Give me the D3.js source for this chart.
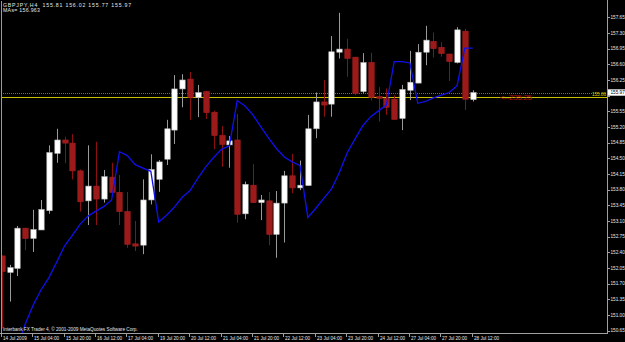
<!DOCTYPE html>
<html>
<head>
<meta charset="utf-8">
<script src="https://cdn.jsdelivr.net/npm/d3@7"></script>
<style>
  html, body { margin: 0; padding: 0; background: #000; }
  svg { display: block; }
  text { font-family: "Liberation Sans", Arial, sans-serif; }
</style>
</head>
<body>
<svg id="chart"></svg>
<script>
// GBPJPY H4 bars
var opens = [152.32,151.95,152.04,152.94,152.71,152.90,153.33,154.61,154.91,154.84,
  154.22,153.55,153.88,153.59,154.08,153.74,153.31,152.59,152.56,153.57,
  154.03,154.48,155.13,156.05,156.27,155.86,155.99,155.53,155.01,154.80,
  154.91,153.26,153.90,153.51,153.55,152.80,153.50,154.11,153.84,153.89,
  155.16,155.76,155.71,156.87,156.94,156.76,155.99,156.64,155.88,155.84,
  155.82,155.39,156.02,156.18,156.87,157.11,156.98,156.83,156.64,157.34,
  155.81];
var highs = [152.33,152.12,152.99,152.95,153.35,153.57,154.79,155.16,154.98,155.04,
  154.25,154.79,154.87,154.24,154.40,154.13,153.75,153.10,154.03,154.59,
  154.46,155.36,156.36,156.38,156.43,156.14,156.01,155.56,155.22,155.00,
  155.49,153.98,154.37,153.68,153.75,153.77,154.22,154.60,154.45,155.47,
  155.97,156.25,157.23,157.75,157.17,156.76,156.85,156.86,156.09,156.06,
  155.91,156.14,156.90,157.05,157.46,157.31,157.09,156.83,157.43,157.39,
  156.02];
var lows = [150.70,151.30,151.87,152.45,152.41,152.90,153.26,154.40,154.39,154.03,
  153.31,153.01,153.01,153.51,153.72,153.01,152.50,152.43,152.36,153.47,
  153.75,154.35,154.82,155.64,155.36,155.42,155.38,154.71,154.31,154.29,
  153.06,153.14,153.51,153.12,152.56,152.28,152.62,153.72,153.79,153.89,
  154.95,155.43,155.43,156.73,156.32,155.91,155.95,155.79,155.32,155.47,
  155.37,155.13,155.80,156.18,156.58,156.75,156.77,156.23,156.62,155.58,
  155.77];
var closes = [151.97,152.06,152.94,152.71,152.91,153.36,154.63,154.91,154.84,154.22,
  153.53,153.88,153.59,154.09,153.74,153.31,152.58,152.54,153.57,154.25,
  154.42,155.16,156.05,156.25,155.86,155.97,155.52,155.01,154.81,154.89,
  153.25,153.92,153.51,153.57,152.80,153.50,154.11,153.84,153.90,155.16,
  155.76,155.69,156.88,156.94,156.73,155.95,156.64,155.86,155.84,155.64,
  155.37,156.04,156.20,156.87,157.14,156.95,156.84,156.66,157.37,155.82,
  155.97];
// moving average buffer (blue line)
var maValues = [null,null,150.27,150.80,151.22,151.56,151.83,152.18,152.54,152.78,
  153.03,153.21,153.32,153.42,153.57,154.65,154.56,154.36,154.28,154.21,
  153.08,153.23,153.41,153.63,153.78,154.06,154.31,154.52,154.70,154.78,
  155.79,155.67,155.47,155.21,154.95,154.72,154.53,154.42,154.34,153.18,
  153.38,153.60,153.81,154.18,154.62,154.93,155.23,155.43,155.56,155.69,
  156.66,156.66,156.63,155.73,155.77,155.85,155.91,155.97,156.12,156.96,
  156.96];

var timeLabels = ['14 Jul 2009','15 Jul 04:00','15 Jul 20:00','16 Jul 12:00','17 Jul 04:00',
  '19 Jul 20:00','20 Jul 12:00','21 Jul 04:00','21 Jul 20:00','22 Jul 12:00',
  '23 Jul 04:00','23 Jul 20:00','24 Jul 12:00','27 Jul 04:00','27 Jul 20:00','28 Jul 12:00'];
var barsPerLabel = 4;
var priceTicks = [157.65,157.30,156.95,156.60,156.25,155.90,155.55,155.20,154.85,154.50,
  154.15,153.80,153.45,153.10,152.75,152.40,152.05,151.70,151.35,151.00,150.65];

var bidPrice = 155.97;
var hLinePrice = 155.86;
var headerText = 'GBPJPY,H4  155.81 156.02 155.77 155.97';
var maText = 'MAs= 156.963';
var timerText = '<--235:25';

// layout
var width = 625;
var height = 342;
var plot = {left: 1, right: 607, top: 1, bottom: 333};

var x = d3.scaleLinear().domain([0, 60]).range([1.7, 472.7]);
var y = d3.scaleLinear().domain([150.65, 157.65]).range([330.7, 17.3]);

var svg = d3.select('#chart')
  .attr('width', width)
  .attr('height', height);

svg.append('rect')
  .attr('width', width)
  .attr('height', height)
  .attr('fill', '#000');

svg.append('defs').append('clipPath')
  .attr('id', 'plotclip')
  .append('rect')
    .attr('x', plot.left + 1)
    .attr('y', plot.top)
    .attr('width', plot.right - plot.left - 1)
    .attr('height', plot.bottom - plot.top);

var g = svg.append('g').attr('clip-path', 'url(#plotclip)');

// bid line (dotted grey) and user horizontal line (yellow)
g.append('line')
  .attr('x1', plot.left).attr('x2', plot.right)
  .attr('y1', Math.round(y(bidPrice)) + 0.5).attr('y2', Math.round(y(bidPrice)) + 0.5)
  .attr('stroke', '#6a6a6a')
  .attr('stroke-dasharray', '1,1');

g.append('line')
  .attr('x1', plot.left).attr('x2', plot.right)
  .attr('y1', Math.round(y(hLinePrice)) + 0.5).attr('y2', Math.round(y(hLinePrice)) + 0.5)
  .attr('stroke', '#c8c000');

// candles
var bars = d3.range(opens.length).map(function(i) {
  return {i: i, o: opens[i], h: highs[i], l: lows[i], c: closes[i]};
});
var bodyW = 5.4;

var candle = g.selectAll('g.candle')
  .data(bars)
  .enter()
  .append('g')
    .attr('class', 'candle');

candle.append('line')
  .attr('x1', function(d) { return Math.round(x(d.i)) + 0.5; })
  .attr('x2', function(d) { return Math.round(x(d.i)) + 0.5; })
  .attr('y1', function(d) { return y(d.h); })
  .attr('y2', function(d) { return y(d.l); })
  .attr('stroke', function(d) { return d.c >= d.o ? '#9a9a9a' : '#8c1010'; })
  .attr('stroke-width', 1);

candle.append('rect')
  .attr('x', function(d) { return Math.round(x(d.i)) + 0.5 - bodyW / 2; })
  .attr('y', function(d) { return y(Math.max(d.o, d.c)); })
  .attr('width', bodyW)
  .attr('height', function(d) { return Math.max(1.2, Math.abs(y(d.o) - y(d.c))); })
  .attr('fill', function(d) { return d.c >= d.o ? '#ffffff' : '#9c1a1a'; })
  .attr('stroke', function(d) { return d.c >= d.o ? '#b0b0b0' : '#a82020'; })
  .attr('stroke-width', 0.6);

// moving average
var maLine = d3.line()
  .defined(function(d) { return d !== null; })
  .x(function(d, i) { return x(i); })
  .y(function(d) { return y(d); });

g.append('path')
  .datum(maValues)
  .attr('d', maLine)
  .attr('fill', 'none')
  .attr('stroke', '#1010ee')
  .attr('stroke-width', 1.3);

// frame
svg.append('line')
  .attr('x1', plot.left + 0.5).attr('x2', plot.left + 0.5)
  .attr('y1', plot.top).attr('y2', plot.bottom)
  .attr('stroke', '#9a9a9a');
svg.append('line')
  .attr('x1', plot.right + 0.5).attr('x2', plot.right + 0.5)
  .attr('y1', 0).attr('y2', plot.bottom + 0.5)
  .attr('stroke', '#a0a0a0');
svg.append('line')
  .attr('x1', 0).attr('x2', plot.right + 1)
  .attr('y1', plot.bottom + 0.5).attr('y2', plot.bottom + 0.5)
  .attr('stroke', '#a0a0a0');

// price axis (the 155.90 label sits under the bid box, as in the terminal)
var yAxis = svg.append('g');
yAxis.selectAll('line.tick')
  .data(priceTicks)
  .enter()
  .append('line')
    .attr('x1', plot.right + 1).attr('x2', plot.right + 3)
    .attr('y1', function(d) { return Math.round(y(d)) + 0.5; })
    .attr('y2', function(d) { return Math.round(y(d)) + 0.5; })
    .attr('stroke', '#a0a0a0');
yAxis.selectAll('text.tick')
  .data(priceTicks.filter(function(d) { return Math.abs(y(d) - y(bidPrice)) > 4; }))
  .enter()
  .append('text')
    .attr('x', plot.right + 3.5)
    .attr('y', function(d) { return y(d) + 1.7; })
    .attr('fill', '#e8e8e8')
    .attr('font-size', '4.7px')
    .text(function(d) { return d.toFixed(2); });

// bid price box
svg.append('rect')
  .attr('x', plot.right + 1)
  .attr('y', y(bidPrice) - 3.2)
  .attr('width', width - plot.right - 1)
  .attr('height', 6.4)
  .attr('fill', '#ffffff');
svg.append('text')
  .attr('x', plot.right + 3.5)
  .attr('y', y(bidPrice) + 1.7)
  .attr('fill', '#000')
  .attr('font-size', '4.7px')
  .text(bidPrice.toFixed(2));

// label of the horizontal line
svg.append('text')
  .attr('x', plot.right - 1)
  .attr('y', y(hLinePrice) - 1)
  .attr('text-anchor', 'end')
  .attr('fill', '#d8d000')
  .attr('font-size', '4.6px')
  .text(hLinePrice.toFixed(2));

// time axis
var xAxis = svg.append('g');
xAxis.selectAll('line.tick')
  .data(timeLabels)
  .enter()
  .append('line')
    .attr('x1', function(d, k) { return Math.round(x(k * barsPerLabel)) - 0.5; })
    .attr('x2', function(d, k) { return Math.round(x(k * barsPerLabel)) - 0.5; })
    .attr('y1', plot.bottom).attr('y2', plot.bottom + 4)
    .attr('stroke', '#a0a0a0');
xAxis.selectAll('text.tick')
  .data(timeLabels)
  .enter()
  .append('text')
    .attr('x', function(d, k) { return Math.round(x(k * barsPerLabel)) + 1; })
    .attr('y', plot.bottom + 6.6)
    .attr('fill', '#e8e8e8')
    .attr('font-size', '4.6px')
    .text(function(d) { return d; });

// header texts
svg.append('text')
  .attr('x', 3).attr('y', 6.8)
  .attr('fill', '#e8e8e8')
  .attr('font-size', '5.2px')
  .attr('letter-spacing', '0.8px')
  .style('white-space', 'pre')
  .text(headerText);
svg.append('text')
  .attr('x', 3).attr('y', 11.8)
  .attr('fill', '#e8e8e8')
  .attr('font-size', '5.2px')
  .attr('letter-spacing', '0.3px')
  .text(maText);

svg.append('text')
  .attr('x', 3).attr('y', 331)
  .attr('fill', '#e8e8e8')
  .attr('font-size', '4.7px')
  .text('Interbank FX Trader 4, \u00a9 2001-2009 MetaQuotes Software Corp.');

// countdown to bar close
svg.append('text')
  .attr('x', 500).attr('y', y(hLinePrice) + 2.8)
  .attr('fill', '#b01010')
  .attr('font-family', '"DejaVu Sans Mono", monospace')
  .attr('font-size', '8px')
  .attr('letter-spacing', '-0.3px')
  .text(timerText);
</script>
</body>
</html>
